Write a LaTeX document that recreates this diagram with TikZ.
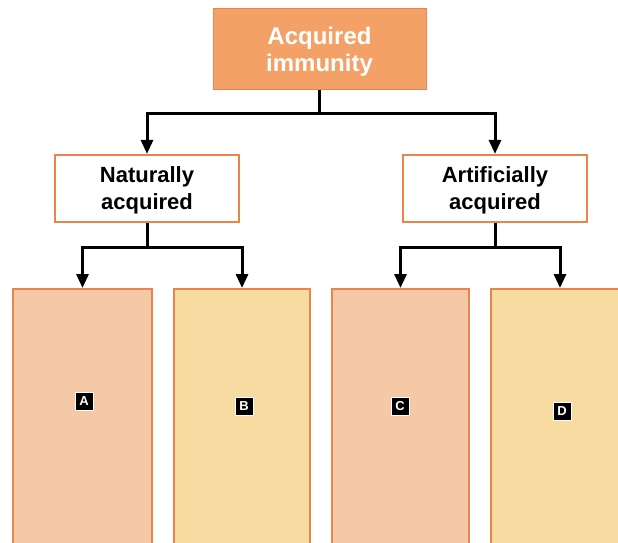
\documentclass[tikz,border=0pt]{standalone}
\usepackage{fontspec}
\setmainfont{Liberation Sans}
\usetikzlibrary{arrows.meta}
\definecolor{immorange}{RGB}{243,161,102}
\definecolor{immedge}{RGB}{234,132,74}
\definecolor{immpeach}{RGB}{246,201,166}
\definecolor{immsand}{RGB}{247,219,160}

\begin{document}
\begin{tikzpicture}[x=1pt, y=-1pt,
  every node/.style={font=\bfseries\fontsize{22}{27}\selectfont, align=center, inner sep=0pt},
  arr/.style={-{Triangle[width=12pt,length=14pt]}, line width=3pt},
  box/.style={draw=immedge, line width=2.2pt, minimum width=184pt, minimum height=67pt, text depth=0pt},
  slot/.style={draw=immedge, line width=2.2pt, minimum height=280pt, anchor=north},
  tag/.style={fill=black, draw=white, line width=1pt, text=white, font=\bfseries\fontsize{13}{13}\selectfont, minimum size=18pt}]

\clip (0,0) rectangle (618,543);

% Define the top node
\node[draw=immedge, fill=immorange, text=white, line width=1pt, minimum width=213pt, minimum height=80pt, text depth=0pt,
  font=\bfseries\fontsize{24}{27}\selectfont] (acq) at (319.5,49) {Acquired\\immunity};

% Second level
\node[box, fill=white] (nat) at (147,188.5) {Naturally\\acquired};
\node[box, fill=white] (art) at (495,188.5) {Artificially\\acquired};

% Bottom boxes
\node[slot, fill=immpeach, minimum width=139pt] (boxA) at (82.5,288) {};
\node[slot, fill=immsand, minimum width=136pt] (boxB) at (242,288) {};
\node[slot, fill=immpeach, minimum width=137pt] (boxC) at (400.5,288) {};
\node[slot, fill=immsand, minimum width=138pt] (boxD) at (560,288) {};

\node[tag] (tagA) at (84,401) {A};
\node[tag] (tagB) at (244,406) {B};
\node[tag] (tagC) at (400,406) {C};
\node[tag] (tagD) at (562,411) {D};

% Arrows
\draw[arr] (acq.south) -- ++(0,24) -| (nat);
\draw[arr] (acq.south) -- ++(0,24) -| (art);
\draw[arr] (nat.south) -- ++(0,24) -| (boxA);
\draw[arr] (nat.south) -- ++(0,24) -| (boxB);
\draw[arr] (art.south) -- ++(0,24) -| (boxC);
\draw[arr] (art.south) -- ++(0,24) -| (boxD);

\end{tikzpicture}
\end{document}
